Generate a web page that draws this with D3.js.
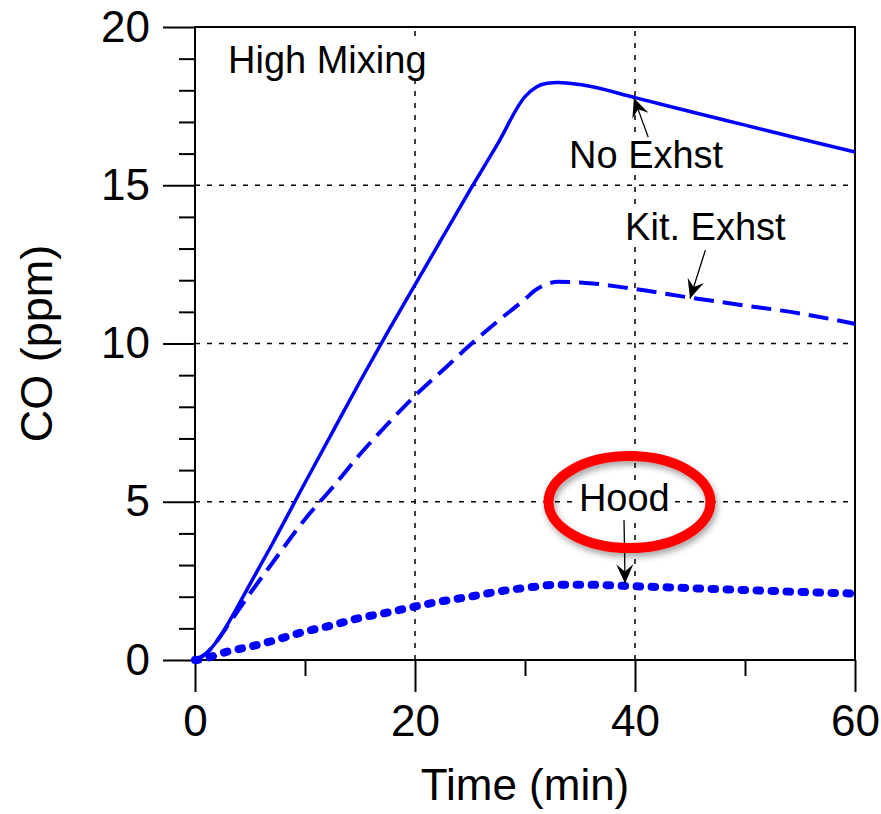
<!DOCTYPE html>
<html>
<head>
<meta charset="utf-8">
<script src="https://cdn.jsdelivr.net/npm/d3@7"></script>
<style>
  html, body { margin: 0; padding: 0; background: #fff; }
  svg text { font-family: "Liberation Sans", Arial, Helvetica, sans-serif; fill: #000; }
</style>
</head>
<body>
<div id="chart"></div>
<script>
// time grid (min) shared by the three runs
const time = [0, 1, 2, 3, 5, 7, 10, 12.5, 15, 17.5, 20, 22.5, 25, 27.5, 30, 31, 32, 33, 35, 40, 45, 50, 55, 60];
const noExhst = [0, 0.2, 0.6, 1.15, 2.4, 3.65, 5.6, 7.2, 8.8, 10.35, 11.85, 13.35, 14.85, 16.3, 17.8, 18.1, 18.22, 18.25, 18.18, 17.77, 17.33, 16.9, 16.47, 16.05];
const kitExhst = [0, 0.2, 0.6, 1.1, 2.1, 3.05, 4.45, 5.45, 6.5, 7.45, 8.35, 9.15, 9.95, 10.7, 11.4, 11.7, 11.88, 11.95, 11.93, 11.72, 11.45, 11.2, 10.95, 10.62];
const hood = [0, 0.05, 0.17, 0.27, 0.42, 0.6, 0.9, 1.1, 1.33, 1.5, 1.69, 1.86, 2.0, 2.16, 2.28, 2.32, 2.36, 2.38, 2.38, 2.33, 2.27, 2.21, 2.15, 2.1];

const xMajor = [0, 20, 40, 60];
const xMinor = [10, 30, 50];
const yMajor = [0, 5, 10, 15, 20];
const yMinor = [1, 2, 3, 4, 6, 7, 8, 9, 11, 12, 13, 14, 16, 17, 18, 19];
const xGrid = [20, 40];
const yGrid = [5, 10, 15];

const width = 881, height = 814;
const margin = { top: 27, right: 26, bottom: 154, left: 195 };

const svg = d3.select("#chart").append("svg")
  .attr("width", width)
  .attr("height", height);

const x = d3.scaleLinear().domain([0, 60]).range([margin.left, width - margin.right]);
const y = d3.scaleLinear().domain([0, 20]).range([height - margin.bottom, margin.top]);

const defs = svg.append("defs");
defs.append("marker")
  .attr("id", "head")
  .attr("markerUnits", "userSpaceOnUse")
  .attr("viewBox", "-20 -10 21 20")
  .attr("refX", 0).attr("refY", 0)
  .attr("markerWidth", 21).attr("markerHeight", 20)
  .attr("orient", "auto")
  .append("path")
  .attr("d", "M0,0 L-19,-8.5 L-12,0 L-19,8.5 Z")
  .attr("fill", "#000");

const shadow = defs.append("filter").attr("id", "shadow")
  .attr("x", "-20%").attr("y", "-20%").attr("width", "140%").attr("height", "150%");
shadow.append("feDropShadow")
  .attr("dx", 2).attr("dy", 4).attr("stdDeviation", 3)
  .attr("flood-color", "#000").attr("flood-opacity", 0.35);

// grid
const grid = svg.append("g").attr("stroke", "#000").attr("stroke-width", 1.5).attr("stroke-dasharray", "5,7");
grid.selectAll(".gx").data(xGrid).join("line")
  .attr("x1", d => x(d)).attr("x2", d => x(d))
  .attr("y1", y(0)).attr("y2", y(20));
grid.selectAll(".gy").data(yGrid).join("line")
  .attr("x1", x(0)).attr("x2", x(60))
  .attr("y1", d => y(d)).attr("y2", d => y(d));

// axes
function styleAxis(g) {
  g.select(".domain").remove();
  g.selectAll(".tick line").attr("stroke", "#000").attr("stroke-width", 2);
  g.selectAll(".tick text").style("font-size", "44px").attr("fill", "#000");
}

svg.append("g")
  .attr("transform", `translate(0,${y(0)})`)
  .call(d3.axisBottom(x).tickValues(xMajor).tickSize(32).tickPadding(13).tickFormat(d3.format("d")))
  .call(styleAxis);
svg.append("g")
  .attr("transform", `translate(0,${y(0)})`)
  .call(d3.axisBottom(x).tickValues(xMinor).tickSize(16).tickFormat(""))
  .call(styleAxis);
svg.append("g")
  .attr("transform", `translate(${x(0)},0)`)
  .call(d3.axisLeft(y).tickValues(yMajor).tickSize(32).tickPadding(13).tickFormat(d3.format("d")))
  .call(styleAxis);
svg.append("g")
  .attr("transform", `translate(${x(0)},0)`)
  .call(d3.axisLeft(y).tickValues(yMinor).tickSize(16).tickFormat(""))
  .call(styleAxis);

// frame
svg.append("rect")
  .attr("x", x(0)).attr("y", y(20))
  .attr("width", x(60) - x(0)).attr("height", y(0) - y(20))
  .attr("fill", "none").attr("stroke", "#000").attr("stroke-width", 2);

// axis titles
svg.append("text")
  .attr("x", x(30)).attr("y", 800)
  .attr("text-anchor", "middle")
  .style("font-size", "44px")
  .text("Time (min)");
svg.append("text")
  .attr("transform", `translate(52,${y(10)}) rotate(-90)`)
  .attr("text-anchor", "middle")
  .style("font-size", "45px")
  .text("CO (ppm)");

// annotation labels with white backing so grid doesn't run through them
const labels = [
  { text: "High Mixing", t: 3.0, v: 18.55 },
  { text: "No Exhst", t: 34.0, v: 15.55 },
  { text: "Kit. Exhst", t: 39.1, v: 13.27 },
  { text: "Hood", t: 34.9, v: 4.7 }
];
const labelG = svg.append("g");
labels.forEach(d => {
  const bg = labelG.append("rect").attr("fill", "#fff");
  const tx = labelG.append("text")
    .attr("x", x(d.t)).attr("y", y(d.v))
    .style("font-size", "38px")
    .text(d.text);
  const bb = tx.node().getBBox();
  bg.attr("x", bb.x - 2).attr("y", bb.y + 4).attr("width", bb.width + 4).attr("height", bb.height - 6);
});

// series
const series = [
  { name: "No Exhst", values: noExhst, width: 3.5, dash: null, cap: "butt" },
  { name: "Kit. Exhst", values: kitExhst, width: 4, dash: "20,9", cap: "butt" },
  { name: "Hood", values: hood, width: 8, dash: "3.5,11.5", cap: "round" }
];
const line = d3.line()
  .x(d => x(d[0]))
  .y(d => y(d[1]))
  .curve(d3.curveMonotoneX);

series.forEach(s => {
  svg.append("path")
    .datum(time.map((t, i) => [t, s.values[i]]))
    .attr("fill", "none")
    .attr("stroke", "#0000ff")
    .attr("stroke-width", s.width)
    .attr("stroke-linecap", s.cap)
    .attr("stroke-linejoin", "round")
    .attr("stroke-dasharray", s.dash)
    .attr("d", line);
});

// arrows
const arrows = [
  { from: [41.2, 16.52], to: [39.9, 17.76] },
  { from: [46.4, 12.95], to: [45.0, 11.42] },
  { from: [39.0, 4.42], to: [39.1, 2.42] }
];
svg.selectAll(".arrow").data(arrows).join("line")
  .attr("class", "arrow")
  .attr("x1", d => x(d.from[0])).attr("y1", d => y(d.from[1]))
  .attr("x2", d => x(d.to[0])).attr("y2", d => y(d.to[1]))
  .attr("stroke", "#000").attr("stroke-width", 1.3)
  .attr("marker-end", "url(#head)");

// red highlight round the Hood label
svg.append("ellipse")
  .attr("cx", x(39.5)).attr("cy", y(4.99))
  .attr("rx", 81).attr("ry", 46)
  .attr("fill", "none")
  .attr("stroke", "#ff0000")
  .attr("stroke-width", 10)
  .attr("filter", "url(#shadow)");
</script>
</body>
</html>
